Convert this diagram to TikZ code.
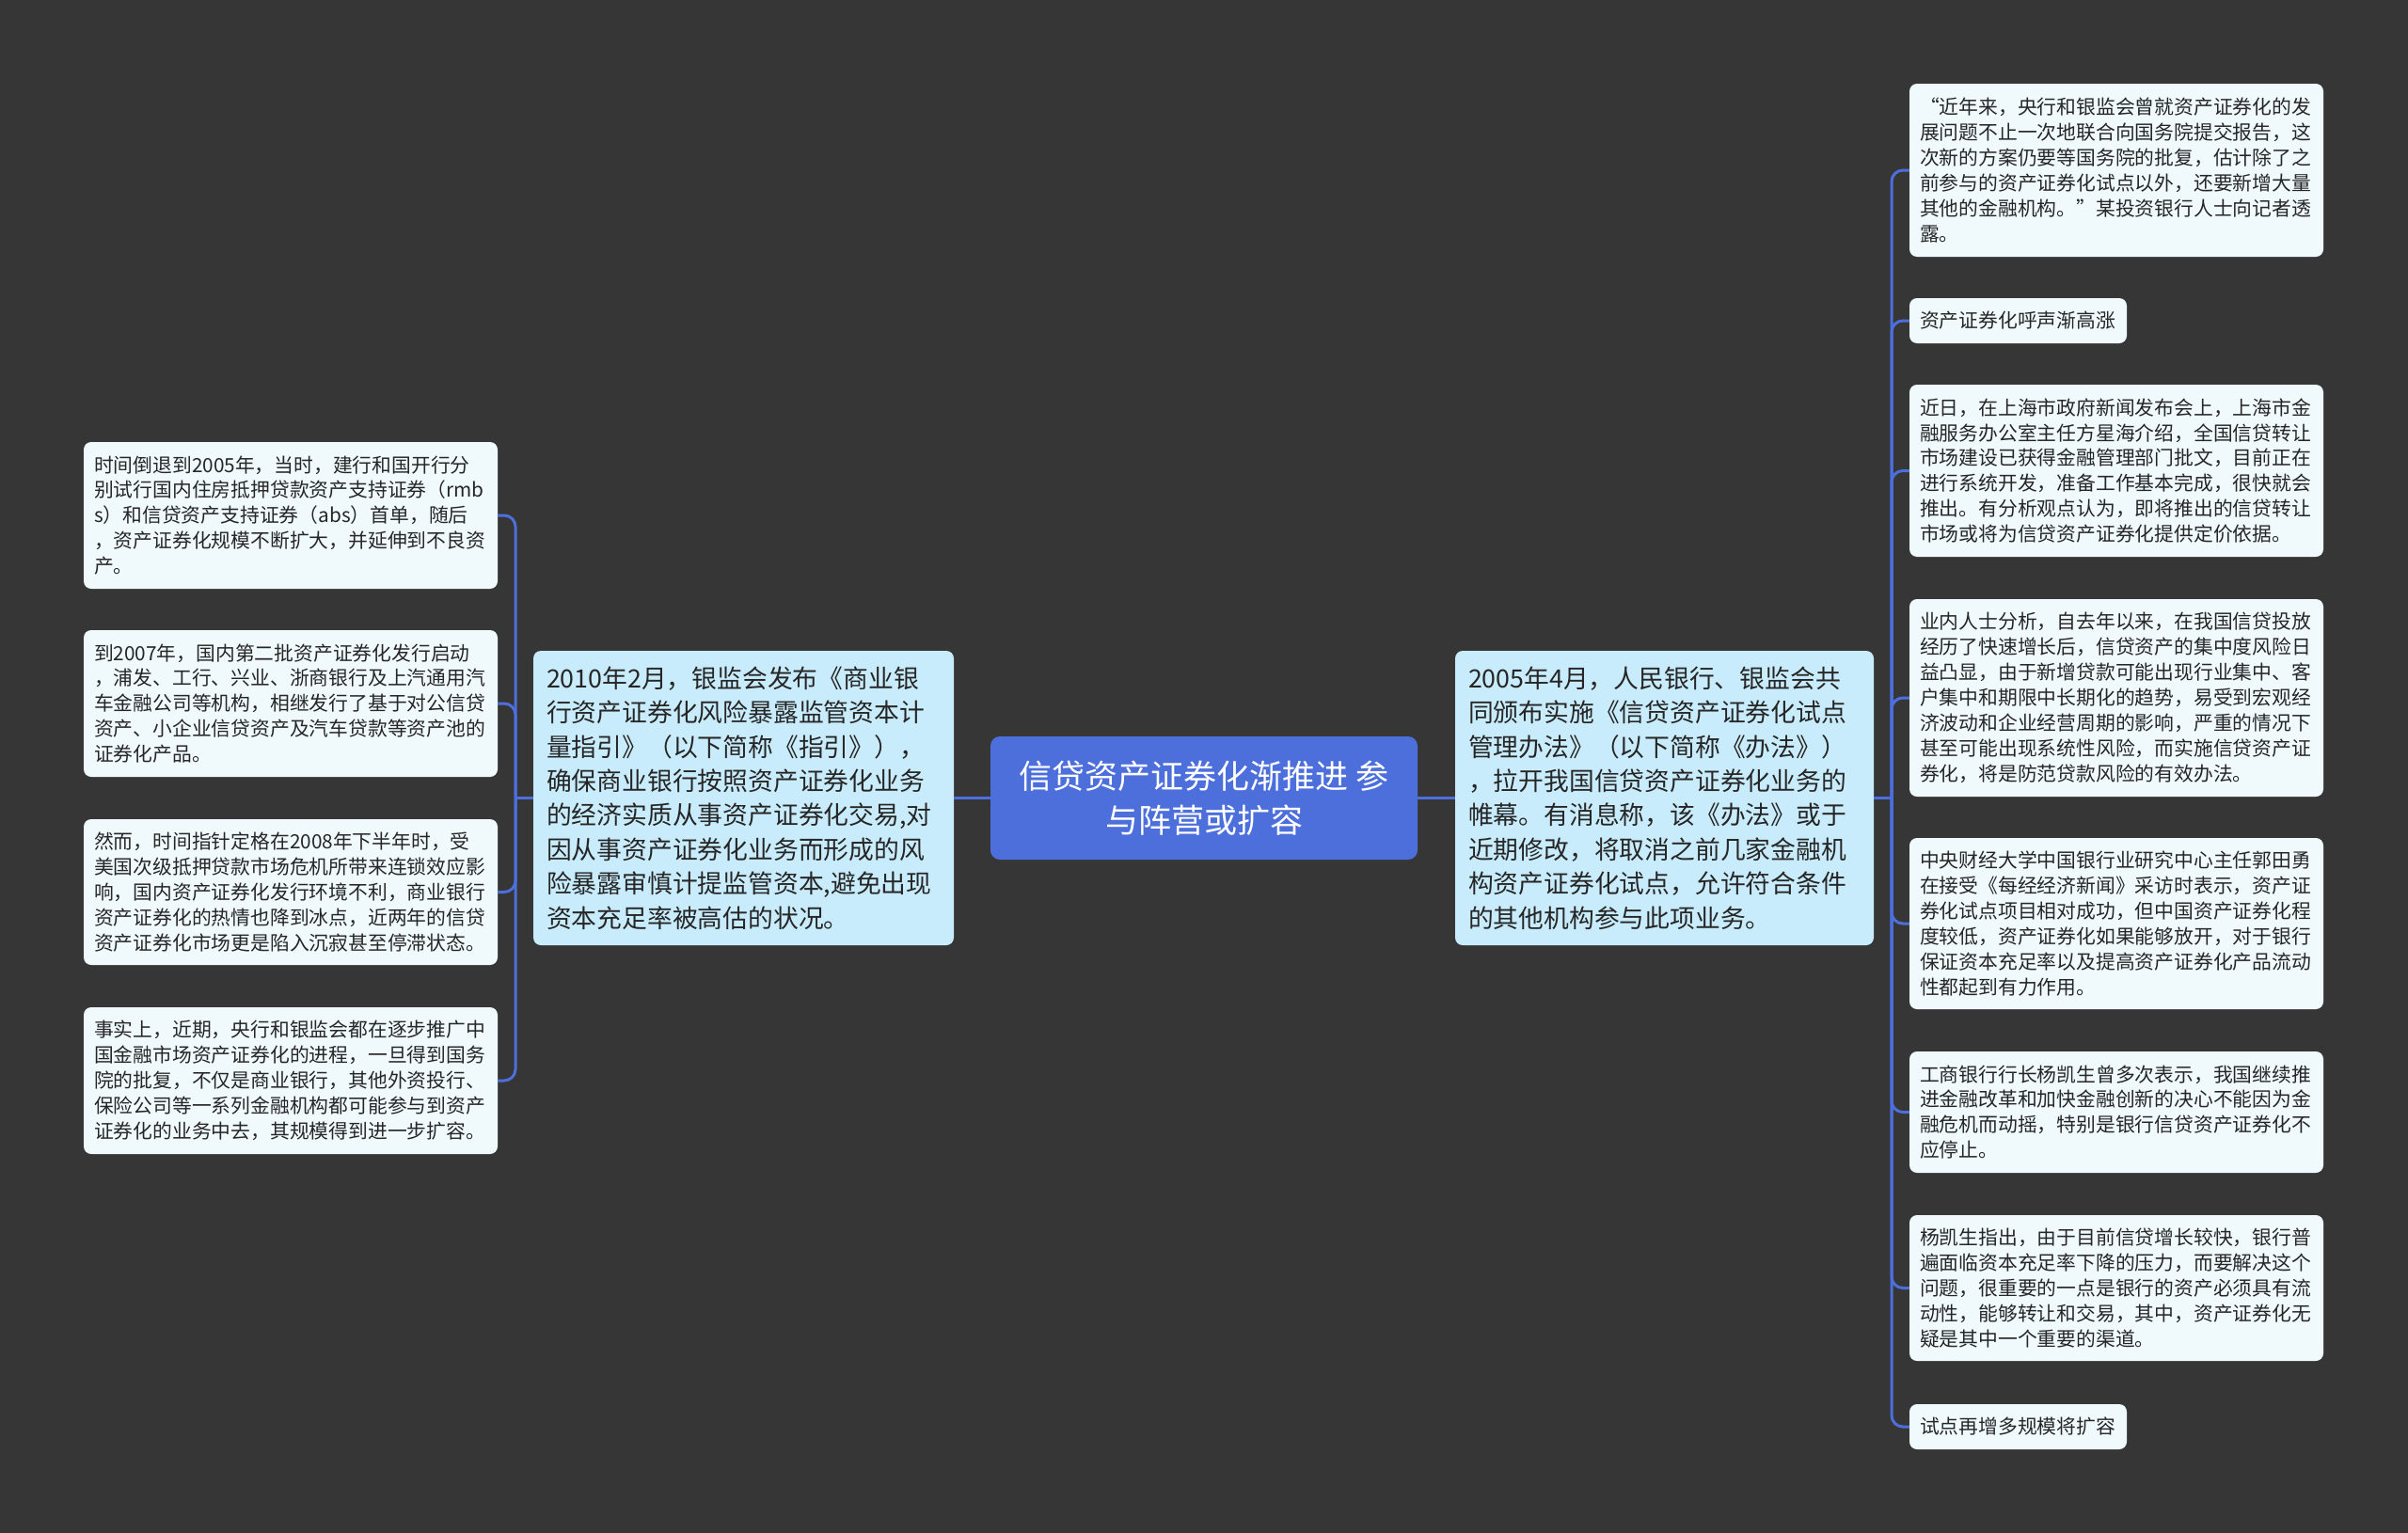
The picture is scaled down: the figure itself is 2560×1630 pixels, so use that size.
\documentclass[tikz,border=0pt]{standalone}
\usepackage{fontspec}
\setmainfont{Noto Sans CJK SC}
\definecolor{bgc}{HTML}{363636}
\definecolor{rootc}{HTML}{4C6FDC}
\definecolor{mainc}{HTML}{C9ECFC}
\definecolor{leafc}{HTML}{F0FAFD}
\definecolor{textc}{HTML}{262626}
\definecolor{linec}{HTML}{4C6FDC}
\tikzset{
  leafbox/.style={fill=leafc, rounded corners=8pt, text=textc,
    font=\fontsize{20.8}{26.9}\selectfont, align=left,
    inner xsep=11pt, inner ysep=0pt, text width=418pt},
  smallleaf/.style={leafbox, text width=209pt},
  mainbox/.style={fill=mainc, rounded corners=8pt, text=textc,
    font=\fontsize{26.8}{36.4}\selectfont, align=left,
    inner xsep=14pt, inner ysep=0pt, text width=418pt},
  rootbox/.style={fill=rootc, rounded corners=10pt, text=white,
    font=\fontsize{35}{47}\selectfont, align=center,
    inner sep=0pt, minimum width=454pt, minimum height=131pt},
  conn/.style={draw=linec, line width=3pt},
  elbow/.style={conn, rounded corners=12pt}
}
\begin{document}
\begin{tikzpicture}[x=1pt,y=-1pt]
\fill[bgc] (0,0) rectangle (2560,1630);
\useasboundingbox (0,0) rectangle (2560,1630);

\node[rootbox] (root) at (1280,848.5) {信贷资产证券化渐推进 参\\与阵营或扩容};

\node[mainbox, text width=419pt, minimum height=313pt] (lmain) at (790.5,848.5) {2010年2月，银监会发布《商业银\\
行资产证券化风险暴露监管资本计\\
量指引》（以下简称《指引》），\\
确保商业银行按照资产证券化业务\\
的经济实质从事资产证券化交易,对\\
因从事资产证券化业务而形成的风\\
险暴露审慎计提监管资本,避免出现\\
资本充足率被高估的状况。};

\node[mainbox, text width=417pt, minimum height=313pt] (rmain) at (1769.5,848.5) {2005年4月，人民银行、银监会共\\
同颁布实施《信贷资产证券化试点\\
管理办法》（以下简称《办法》）\\
，拉开我国信贷资产证券化业务的\\
帷幕。有消息称，该《办法》或于\\
近期修改，将取消之前几家金融机\\
构资产证券化试点，允许符合条件\\
的其他机构参与此项业务。};

% left leaves
\node[leafbox, minimum height=156pt] (L1) at (309,548) {时间倒退到2005年，当时，建行和国开行分\\
别试行国内住房抵押贷款资产支持证券（rmb\\
s）和信贷资产支持证券（abs）首单，随后\\
，资产证券化规模不断扩大，并延伸到不良资\\
产。};
\node[leafbox, minimum height=156pt] (L2) at (309,748) {到2007年，国内第二批资产证券化发行启动\\
，浦发、工行、兴业、浙商银行及上汽通用汽\\
车金融公司等机构，相继发行了基于对公信贷\\
资产、小企业信贷资产及汽车贷款等资产池的\\
证券化产品。};
\node[leafbox, minimum height=155pt] (L3) at (309,948.5) {然而，时间指针定格在2008年下半年时，受\\
美国次级抵押贷款市场危机所带来连锁效应影\\
响，国内资产证券化发行环境不利，商业银行\\
资产证券化的热情也降到冰点，近两年的信贷\\
资产证券化市场更是陷入沉寂甚至停滞状态。};
\node[leafbox, minimum height=156pt] (L4) at (309,1149) {事实上，近期，央行和银监会都在逐步推广中\\
国金融市场资产证券化的进程，一旦得到国务\\
院的批复，不仅是商业银行，其他外资投行、\\
保险公司等一系列金融机构都可能参与到资产\\
证券化的业务中去，其规模得到进一步扩容。};

% right leaves
\node[leafbox, minimum height=184pt] (R1) at (2250,181) {\makebox[1em][r]{“}近年来，央行和银监会曾就资产证券化的发\\
展问题不止一次地联合向国务院提交报告，这\\
次新的方案仍要等国务院的批复，估计除了之\\
前参与的资产证券化试点以外，还要新增大量\\
其他的金融机构。\makebox[1em][l]{”}某投资银行人士向记者透\\
露。};
\node[smallleaf, minimum height=48pt] (R2) at (2145.5,341) {资产证券化呼声渐高涨};
\node[leafbox, minimum height=183pt] (R3) at (2250,500.5) {近日，在上海市政府新闻发布会上，上海市金\\
融服务办公室主任方星海介绍，全国信贷转让\\
市场建设已获得金融管理部门批文，目前正在\\
进行系统开发，准备工作基本完成，很快就会\\
推出。有分析观点认为，即将推出的信贷转让\\
市场或将为信贷资产证券化提供定价依据。};
\node[leafbox, minimum height=210pt] (R4) at (2250,742) {业内人士分析，自去年以来，在我国信贷投放\\
经历了快速增长后，信贷资产的集中度风险日\\
益凸显，由于新增贷款可能出现行业集中、客\\
户集中和期限中长期化的趋势，易受到宏观经\\
济波动和企业经营周期的影响，严重的情况下\\
甚至可能出现系统性风险，而实施信贷资产证\\
券化，将是防范贷款风险的有效办法。};
\node[leafbox, minimum height=182pt] (R5) at (2250,982) {中央财经大学中国银行业研究中心主任郭田勇\\
在接受《每经经济新闻》采访时表示，资产证\\
券化试点项目相对成功，但中国资产证券化程\\
度较低，资产证券化如果能够放开，对于银行\\
保证资本充足率以及提高资产证券化产品流动\\
性都起到有力作用。};
\node[leafbox, minimum height=129pt] (R6) at (2250,1182.5) {工商银行行长杨凯生曾多次表示，我国继续推\\
进金融改革和加快金融创新的决心不能因为金\\
融危机而动摇，特别是银行信贷资产证券化不\\
应停止。};
\node[leafbox, minimum height=155pt] (R7) at (2250,1369.5) {杨凯生指出，由于目前信贷增长较快，银行普\\
遍面临资本充足率下降的压力，而要解决这个\\
问题，很重要的一点是银行的资产必须具有流\\
动性，能够转让和交易，其中，资产证券化无\\
疑是其中一个重要的渠道。};
\node[smallleaf, minimum height=48pt] (R8) at (2145.5,1517) {试点再增多规模将扩容};

% connectors
\draw[conn] (root.west) -- (lmain.east);
\draw[conn] (root.east) -- (rmain.west);

\coordinate (lj) at (548,848.5);
\coordinate (rj) at (2011,848.5);
\draw[conn] (lmain.west) -- (lj);
\draw[conn] (rmain.east) -- (rj);
\foreach \n in {L1,L2,L3,L4} \draw[elbow] (lj) |- (\n.east);
\foreach \n in {R1,R2,R3,R4,R5,R6,R7,R8} \draw[elbow] (rj) |- (\n.west);
\end{tikzpicture}
\end{document}
